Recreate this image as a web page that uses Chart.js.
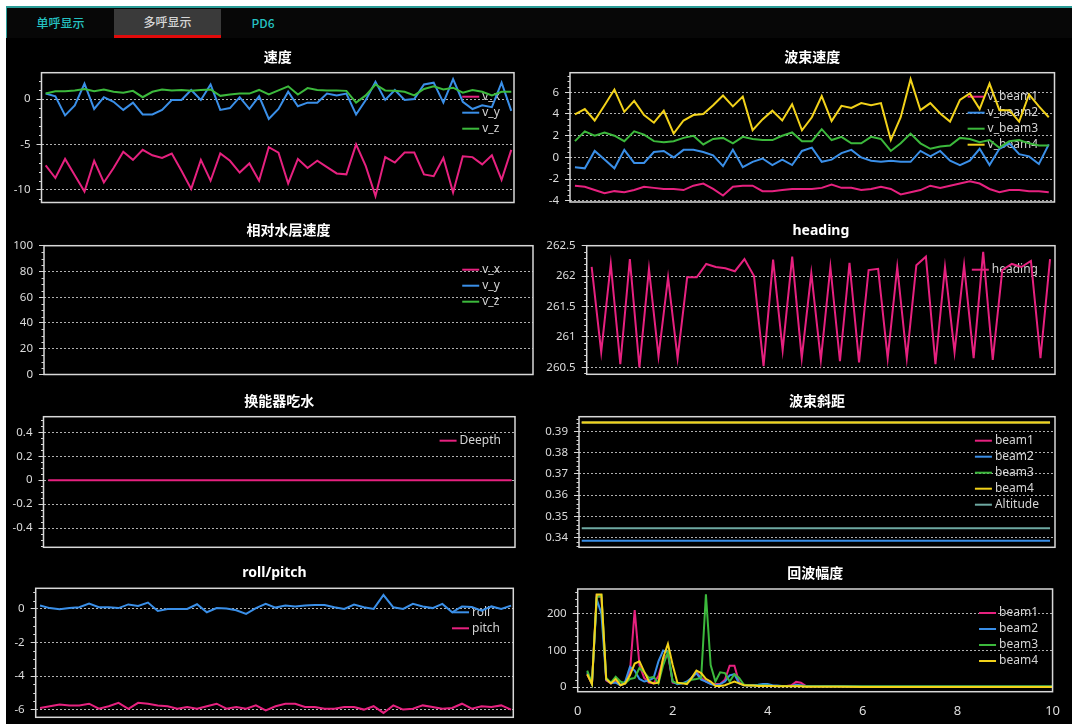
<!DOCTYPE html>
<html>
<head>
<meta charset="utf-8">
<script src="https://cdn.jsdelivr.net/npm/chart.js@4.4.1/dist/chart.umd.min.js"></script>
<style>
  html, body { margin: 0; padding: 0; width: 1072px; height: 724px; overflow: hidden; background: #ffffff; }
  #app { position: absolute; left: 6px; top: 6px; width: 1066px; height: 718px; background: #000; }
  #topline { position: absolute; left: 0; top: 0; width: 1066px; height: 2px; background: #2a9d98; }
  #tabbar { position: absolute; left: 0; top: 2px; width: 1066px; height: 30px; background: #070707; }
  #tabedge { position: absolute; left: 0; top: 0; width: 1px; height: 30px; background: #2a9d98; }
  .tab { position: absolute; top: 0; height: 30px; line-height: 30px; text-align: center;
         font-family: "Noto Sans CJK SC", "Noto Sans", sans-serif; font-size: 12px; font-weight: 500; color: #25c2c2; }
  .tab.active { top: 1px; height: 26px; line-height: 26px; background: #3a3a3a; color: #d6d6d6; }
  #tabmark { position: absolute; left: 108px; top: 27px; width: 107px; height: 3px; background: #e10a0a; }
  canvas.panel { position: absolute; }
</style>
</head>
<body>
<div id="app">
  <div id="topline"></div>
  <div id="tabbar">
    <div id="tabedge"></div>
    <div class="tab" style="left:1px;width:107px;">单呼显示</div>
    <div class="tab active" style="left:108px;width:107px;">多呼显示</div>
    <div class="tab" style="left:215px;width:84px;">PD6</div>
    <div id="tabmark"></div>
  </div>
</div>
<script>
// ---- ping-series data (49 pings) ----
const pings = Array.from({ length: 49 }, (_, i) => i + 1);

// 速度
const velX = [-7.3,-8.7,-6.6,-8.4,-10.2,-6.8,-9.2,-7.6,-5.8,-6.7,-5.6,-6.2,-6.5,-6.0,-7.9,-9.9,-6.7,-9.0,-6.0,-6.8,-8.1,-7.1,-9.0,-5.3,-5.9,-9.3,-6.6,-7.6,-6.8,-7.5,-8.2,-8.3,-5.0,-7.4,-10.7,-6.4,-7.0,-5.9,-5.9,-8.3,-8.5,-6.5,-10.3,-6.3,-6.4,-7.2,-6.2,-8.9,-5.6];
const velY = [0.6,0.3,-1.8,-0.7,1.7,-1.1,0.2,-0.3,-1.2,-0.4,-1.7,-1.7,-1.2,-0.1,-0.1,1.0,-0.1,1.6,-1.2,-1.0,0.2,-1.1,0.3,-2.2,-1.1,0.8,-0.8,-0.4,-0.4,0.6,0.4,0.6,-1.7,-0.1,1.9,-0.1,1.0,-0.1,0.0,1.6,1.8,-0.4,2.2,-0.3,-1.1,-0.7,-0.9,1.8,-1.3];
const velZ = [0.6,0.85,0.85,0.95,1.1,0.85,1.05,0.8,0.7,0.9,0.2,0.8,1.05,0.95,1.0,0.9,1.0,1.05,0.35,0.5,0.6,0.6,1.0,0.5,0.95,1.4,0.5,1.2,1.0,0.95,0.95,0.9,-0.4,0.4,1.6,0.95,0.9,0.8,0.4,1.1,1.4,1.05,1.25,0.7,1.0,0.8,0.4,0.8,0.8];

// 波束速度
const beamVel1 = [-2.6,-2.7,-3.0,-3.3,-3.1,-3.2,-3.0,-2.7,-2.8,-2.9,-2.9,-3.0,-2.6,-2.4,-2.9,-3.5,-2.7,-2.6,-2.6,-3.1,-3.1,-3.0,-2.9,-2.9,-2.9,-2.8,-2.5,-2.8,-2.8,-3.0,-2.9,-2.7,-2.9,-3.4,-3.2,-3.0,-2.6,-2.8,-2.6,-2.4,-2.2,-2.4,-2.9,-3.2,-3.0,-3.0,-3.1,-3.1,-3.2];
const beamVel2 = [-0.9,-1.0,0.6,-0.2,-1.0,0.7,-0.5,-0.5,0.5,0.6,0.0,0.7,0.7,0.5,0.2,-0.8,0.7,-0.9,-0.4,-0.1,-0.7,-0.2,-0.7,0.6,0.9,-0.4,-0.2,0.4,0.7,0.0,-0.3,-0.4,-0.3,-0.4,-0.4,0.6,0.1,0.6,-0.3,-0.7,-0.3,0.8,-0.7,0.8,1.3,0.3,0.1,-0.6,1.2];
const beamVel3 = [1.5,2.4,2.0,2.3,2.0,1.5,2.4,2.1,1.5,1.4,1.5,1.8,2.0,1.2,1.7,1.8,1.3,1.9,1.7,1.6,1.6,2.0,2.3,1.5,1.5,2.6,1.6,1.9,1.3,1.3,1.9,1.7,0.6,1.3,2.2,1.3,0.8,1.0,1.1,1.8,1.7,1.4,1.6,0.9,1.5,1.6,1.3,1.1,1.1];
const beamVel4 = [3.96,4.45,3.4,4.8,6.25,4.2,5.2,3.9,3.2,4.3,2.2,3.4,3.9,4.0,4.8,5.7,4.7,5.6,2.5,3.5,4.3,3.4,4.9,2.5,3.7,5.65,3.35,4.75,4.55,5.0,4.8,5.0,1.6,3.7,7.2,4.35,5.0,4.05,3.3,5.3,5.9,4.45,6.8,4.35,4.35,3.3,5.8,4.7,3.7];

// 相对水层速度 (no samples received)
const waterX = [];
const waterY = [];
const waterZ = [];

// heading
const heading = [262.15,260.75,262.2,260.55,262.28,260.5,262.12,260.68,261.98,260.65,261.98,261.98,262.2,262.15,262.13,262.08,262.28,262.0,260.52,262.27,260.78,262.32,260.65,262.05,260.62,262.15,260.6,262.22,260.58,262.1,262.12,260.65,262.15,260.65,262.18,262.32,260.55,262.15,260.75,262.18,260.65,262.4,260.62,262.1,262.2,262.15,262.25,260.65,262.28];

// 换能器吃水
const draft = [0,0,0,0,0,0,0,0,0,0,0,0,0,0,0,0,0,0,0,0,0,0,0,0,0,0,0,0,0,0,0,0,0,0,0,0,0,0,0,0,0,0,0,0,0,0,0,0,0];

// 波束斜距
const slant1 = [0.3943,0.3943,0.3943,0.3943,0.3943,0.3943,0.3943,0.3943,0.3943,0.3943,0.3943,0.3943,0.3943,0.3943,0.3943,0.3943,0.3943,0.3943,0.3943,0.3943,0.3943,0.3943,0.3943,0.3943,0.3943,0.3943,0.3943,0.3943,0.3943,0.3943,0.3943,0.3943,0.3943,0.3943,0.3943,0.3943,0.3943,0.3943,0.3943,0.3943,0.3943,0.3943,0.3943,0.3943,0.3943,0.3943,0.3943,0.3943,0.3943];
const slant2 = [0.3384,0.3384,0.3384,0.3384,0.3384,0.3384,0.3384,0.3384,0.3384,0.3384,0.3384,0.3384,0.3384,0.3384,0.3384,0.3384,0.3384,0.3384,0.3384,0.3384,0.3384,0.3384,0.3384,0.3384,0.3384,0.3384,0.3384,0.3384,0.3384,0.3384,0.3384,0.3384,0.3384,0.3384,0.3384,0.3384,0.3384,0.3384,0.3384,0.3384,0.3384,0.3384,0.3384,0.3384,0.3384,0.3384,0.3384,0.3384,0.3384];
const slant3 = [0.3943,0.3943,0.3943,0.3943,0.3943,0.3943,0.3943,0.3943,0.3943,0.3943,0.3943,0.3943,0.3943,0.3943,0.3943,0.3943,0.3943,0.3943,0.3943,0.3943,0.3943,0.3943,0.3943,0.3943,0.3943,0.3943,0.3943,0.3943,0.3943,0.3943,0.3943,0.3943,0.3943,0.3943,0.3943,0.3943,0.3943,0.3943,0.3943,0.3943,0.3943,0.3943,0.3943,0.3943,0.3943,0.3943,0.3943,0.3943,0.3943];
const slant4 = [0.3943,0.3943,0.3943,0.3943,0.3943,0.3943,0.3943,0.3943,0.3943,0.3943,0.3943,0.3943,0.3943,0.3943,0.3943,0.3943,0.3943,0.3943,0.3943,0.3943,0.3943,0.3943,0.3943,0.3943,0.3943,0.3943,0.3943,0.3943,0.3943,0.3943,0.3943,0.3943,0.3943,0.3943,0.3943,0.3943,0.3943,0.3943,0.3943,0.3943,0.3943,0.3943,0.3943,0.3943,0.3943,0.3943,0.3943,0.3943,0.3943];
const altitude = [0.3443,0.3443,0.3443,0.3443,0.3443,0.3443,0.3443,0.3443,0.3443,0.3443,0.3443,0.3443,0.3443,0.3443,0.3443,0.3443,0.3443,0.3443,0.3443,0.3443,0.3443,0.3443,0.3443,0.3443,0.3443,0.3443,0.3443,0.3443,0.3443,0.3443,0.3443,0.3443,0.3443,0.3443,0.3443,0.3443,0.3443,0.3443,0.3443,0.3443,0.3443,0.3443,0.3443,0.3443,0.3443,0.3443,0.3443,0.3443,0.3443];

// roll/pitch
const roll = [0.2,0.05,-0.02,0.05,0.1,0.32,0.1,0.1,0.05,0.27,0.18,0.38,-0.12,0.0,0.0,0.0,0.28,-0.2,0.05,0.02,-0.08,-0.3,0.05,0.3,0.08,0.2,0.14,0.2,0.24,0.24,0.1,0.0,0.26,0.1,0.0,0.83,0.1,0.0,0.3,0.15,0.05,0.3,-0.2,0.15,0.12,-0.1,0.15,0.0,0.2];
const pitch = [-5.9,-5.8,-5.7,-5.75,-5.75,-5.65,-5.95,-5.8,-5.6,-5.95,-5.6,-5.65,-5.75,-5.8,-5.95,-5.85,-5.95,-5.8,-5.65,-5.95,-5.85,-5.95,-5.75,-6.05,-5.8,-5.65,-5.65,-5.85,-5.85,-5.95,-5.95,-5.85,-5.85,-6.0,-5.8,-6.2,-5.75,-6.0,-5.95,-5.75,-5.85,-5.95,-5.9,-5.65,-5.95,-5.8,-5.85,-5.75,-6.0];

// 回波幅度 (range bins)
const echoRange = [0.2,0.3,0.4,0.5,0.6,0.7,0.8,0.9,1.0,1.1,1.2,1.3,1.4,1.5,1.6,1.7,1.8,1.9,2.0,2.1,2.2,2.3,2.4,2.5,2.6,2.7,2.8,2.9,3.0,3.1,3.2,3.3,3.4,3.5,3.6,3.7,3.8,3.9,4.0,4.1,4.2,4.3,4.4,4.5,4.6,4.7,4.8,4.9,5.0,5.5,6.0,6.5,7.0,7.5,8.0,8.5,9.0,9.5,10.0];
const echo1 = [35,8,250,245,18,10,15,5,10,40,210,60,25,12,10,30,75,90,12,10,10,12,25,40,25,15,10,8,8,20,58,58,12,6,5,5,4,4,4,3,3,3,3,5,14,12,3,2,2,2,1,1,1,1,1,1,1,1,1];
const echo2 = [40,8,240,200,20,12,12,5,15,55,45,22,15,18,25,70,100,95,15,8,10,15,25,38,20,15,8,5,8,15,32,35,10,5,4,5,6,8,8,5,4,3,3,3,6,5,3,2,2,2,1,1,1,1,1,1,1,1,1];
const echo3 = [45,10,245,250,25,12,28,15,10,22,25,52,40,25,28,10,60,95,15,10,10,12,20,22,25,253,60,15,40,38,15,35,25,6,5,4,4,4,4,3,3,3,3,3,3,3,2,2,2,2,2,2,2,2,2,2,2,2,2];
const echo4 = [35,8,253,253,22,10,22,5,10,32,64,70,42,15,10,12,80,118,60,12,10,8,25,45,38,22,15,3,3,5,10,15,10,5,4,4,3,3,3,3,2,2,2,2,2,2,1,1,1,1,0,0,0,0,0,0,0,0,0];

// ---- series colours ----
const PINK = '#e6217f', BLUE = '#3a8fe8', GREEN = '#3cb93c', YELLOW = '#f2d21a', TEAL = '#6ea9a2';

const FONT = '"Noto Sans", "Noto Sans CJK SC", sans-serif';
const TITLE_LINE = 14 * 1.2;
const TITLE_GAP = 6.6;

function fmt(v) { return String(Math.round(v * 10000) / 10000); }

// Frame, minor ticks and in-plot legend
const panelDecor = {
  id: 'panelDecor',
  beforeDatasetsDraw(chart, args, opts) {
    const ctx = chart.ctx;
    const ds = chart.data.datasets;
    ctx.save();
    ctx.font = '12px ' + FONT;
    const maxW = Math.max(...ds.map(d => ctx.measureText(d.label).width));
    const x0 = opts.legendRight - maxW - 20;
    let y = chart.chartArea.top + 24;
    ds.forEach(d => {
      ctx.strokeStyle = d.borderColor;
      ctx.lineWidth = 2;
      ctx.beginPath();
      ctx.moveTo(x0, y); ctx.lineTo(x0 + 17, y);
      ctx.stroke();
      ctx.fillStyle = '#d4d4d4';
      ctx.textBaseline = 'middle';
      ctx.textAlign = 'left';
      ctx.fillText(d.label, x0 + 20, y);
      y += 16;
    });
    ctx.restore();
  },
  afterDraw(chart, args, opts) {
    const ctx = chart.ctx;
    const a = chart.chartArea;
    const ys = chart.scales.y;
    ctx.save();
    ctx.strokeStyle = '#d6d6d6';
    ctx.lineWidth = 1;
    const lo = Math.ceil(ys.min / opts.minor - 1e-9), hi = Math.floor(ys.max / opts.minor + 1e-9);
    ctx.beginPath();
    for (let k = lo; k <= hi; k++) {
      const v = k * opts.minor;
      const r = v / opts.major;
      if (Math.abs(r - Math.round(r)) < 1e-6) continue;
      const py = Math.round(ys.getPixelForValue(v)) + 0.5;
      ctx.moveTo(a.left - 2.5, py); ctx.lineTo(a.left, py);
    }
    ctx.stroke();
    ctx.lineWidth = 1.5;
    ctx.strokeStyle = '#d8d8d8';
    ctx.strokeRect(a.left, a.top, a.right - a.left, a.bottom - a.top);
    ctx.restore();
  }
};

function buildPanel(p) {
  const canvas = document.createElement('canvas');
  canvas.className = 'panel';
  const cl = Math.floor(p.plot.l - p.yw);
  const ct = Math.floor(p.plot.t - (TITLE_LINE + TITLE_GAP + 3));
  const cr = p.canvasRight || Math.ceil(p.plot.r + 14);
  const cb = p.canvasBottom || Math.ceil(p.plot.b + 18);
  canvas.width = cr - cl;
  canvas.height = cb - ct;
  canvas.style.left = cl + 'px';
  canvas.style.top = ct + 'px';
  document.body.appendChild(canvas);

  const yw = p.plot.l - cl;
  const padTop = (p.plot.t - ct) - TITLE_LINE - TITLE_GAP;
  const xh = p.xAxis ? 28 : 0;
  const n = p.series.length;

  const datasets = p.series.map((s, i) => ({
    label: s.label,
    data: s.data,
    borderColor: s.color,
    backgroundColor: s.color,
    borderWidth: 2,
    pointRadius: 0,
    tension: 0,
    fill: false,
    order: n - i
  }));

  const xScale = p.xAxis ? {
    type: 'linear', min: p.x.min, max: p.x.max,
    afterFit: s => { s.height = xh; },
    ticks: { stepSize: p.x.step, color: '#dcdcdc', font: { family: FONT, size: 13 }, padding: 12, maxRotation: 0, includeBounds: false },
    grid: { drawOnChartArea: false, drawTicks: false },
    border: { display: false }
  } : { type: 'linear', display: false, min: p.x.min, max: p.x.max };

  new Chart(canvas, {
    type: 'line',
    data: { labels: p.labels, datasets },
    options: {
      responsive: false,
      animation: false,
      devicePixelRatio: 1,
      events: [],
      layout: { padding: { left: 0, top: 0, right: cr - cl - (p.plot.r - cl), bottom: (cb - ct) - (p.plot.b - ct) - xh } },
      plugins: {
        legend: { display: false },
        tooltip: { enabled: false },
        title: {
          display: true, text: p.title, fullSize: false, color: '#ffffff',
          font: { family: FONT, size: 14, weight: 'bold' },
          padding: { top: padTop, bottom: TITLE_GAP }
        },
        panelDecor: { legendRight: p.legendRight - cl, minor: p.y.minor, major: p.y.step }
      },
      scales: {
        x: xScale,
        y: {
          min: p.y.min, max: p.y.max,
          afterFit: s => { s.width = yw; },
          ticks: { stepSize: p.y.step, includeBounds: false, color: '#dcdcdc', font: { family: FONT, size: 11.5 }, padding: 6, callback: fmt },
          grid: { color: '#b0b0b0', lineWidth: 1, tickLength: 5, tickColor: '#d6d6d6', tickWidth: 1 },
          border: { display: false, dash: [2, 2] }
        }
      }
    },
    plugins: [panelDecor]
  });
}

buildPanel({
  title: '速度', plot: { l: 41.5, t: 72.7, r: 514, b: 202.5 }, yw: 36, legendRight: 500,
  labels: pings, x: { min: 0.57, max: 49.28 }, y: { min: -11.4, max: 2.9, step: 5, minor: 1 },
  series: [{ label: 'v_x', data: velX, color: PINK }, { label: 'v_y', data: velY, color: BLUE }, { label: 'v_z', data: velZ, color: GREEN }]
});
buildPanel({
  title: '波束速度', plot: { l: 570, t: 72.7, r: 1054.5, b: 202 }, yw: 46, legendRight: 1038,
  labels: pings, x: { min: 0.5, max: 49.58 }, y: { min: -4.1, max: 7.8, step: 2, minor: 0.5 },
  series: [{ label: 'v_beam1', data: beamVel1, color: PINK }, { label: 'v_beam2', data: beamVel2, color: BLUE },
           { label: 'v_beam3', data: beamVel3, color: GREEN }, { label: 'v_beam4', data: beamVel4, color: YELLOW }]
});
buildPanel({
  title: '相对水层速度', plot: { l: 44, t: 245.7, r: 533, b: 374.5 }, yw: 40, legendRight: 500,
  labels: pings, x: { min: 0.5, max: 49.5 }, y: { min: 0, max: 100, step: 20, minor: 5 },
  series: [{ label: 'v_x', data: waterX, color: PINK }, { label: 'v_y', data: waterY, color: BLUE }, { label: 'v_z', data: waterZ, color: GREEN }]
});
buildPanel({
  title: 'heading', plot: { l: 586.7, t: 245.7, r: 1055, b: 374.3 }, yw: 50, legendRight: 1038,
  labels: pings, x: { min: 0.48, max: 49.52 }, y: { min: 260.385, max: 262.5, step: 0.5, minor: 0.1 },
  series: [{ label: 'heading', data: heading, color: PINK }]
});
buildPanel({
  title: '换能器吃水', plot: { l: 43.5, t: 416.7, r: 515, b: 547.3 }, yw: 40, legendRight: 501,
  labels: pings, x: { min: 0.51, max: 49.34 }, y: { min: -0.56, max: 0.53, step: 0.2, minor: 0.05 },
  series: [{ label: 'Deepth', data: draft, color: PINK }]
});
buildPanel({
  title: '波束斜距', plot: { l: 579, t: 416.7, r: 1055, b: 547.3 }, yw: 46, legendRight: 1039,
  labels: pings, x: { min: 0.72, max: 49.51 }, y: { min: 0.3353, max: 0.3971, step: 0.01, minor: 0.002 },
  series: [{ label: 'beam1', data: slant1, color: PINK }, { label: 'beam2', data: slant2, color: BLUE },
           { label: 'beam3', data: slant3, color: GREEN }, { label: 'beam4', data: slant4, color: YELLOW },
           { label: 'Altitude', data: altitude, color: TEAL }]
});
buildPanel({
  title: 'roll/pitch', plot: { l: 35.7, t: 588.3, r: 513.3, b: 717.3 }, yw: 34, legendRight: 500,
  labels: pings, x: { min: 0.56, max: 49.23 }, y: { min: -6.46, max: 1.23, step: 2, minor: 0.5 },
  series: [{ label: 'roll', data: roll, color: BLUE }, { label: 'pitch', data: pitch, color: PINK }]
});
buildPanel({
  title: '回波幅度', plot: { l: 577.7, t: 589, r: 1054, b: 691.7 }, yw: 44, legendRight: 1038,
  canvasRight: 1072, canvasBottom: 724, xAxis: true,
  labels: echoRange, x: { min: 0, max: 10, step: 2 }, y: { min: -12.75, max: 267.75, step: 100, minor: 20 },
  series: [{ label: 'beam1', data: echo1, color: PINK }, { label: 'beam2', data: echo2, color: BLUE },
           { label: 'beam3', data: echo3, color: GREEN }, { label: 'beam4', data: echo4, color: YELLOW }]
});
</script>
</body>
</html>
